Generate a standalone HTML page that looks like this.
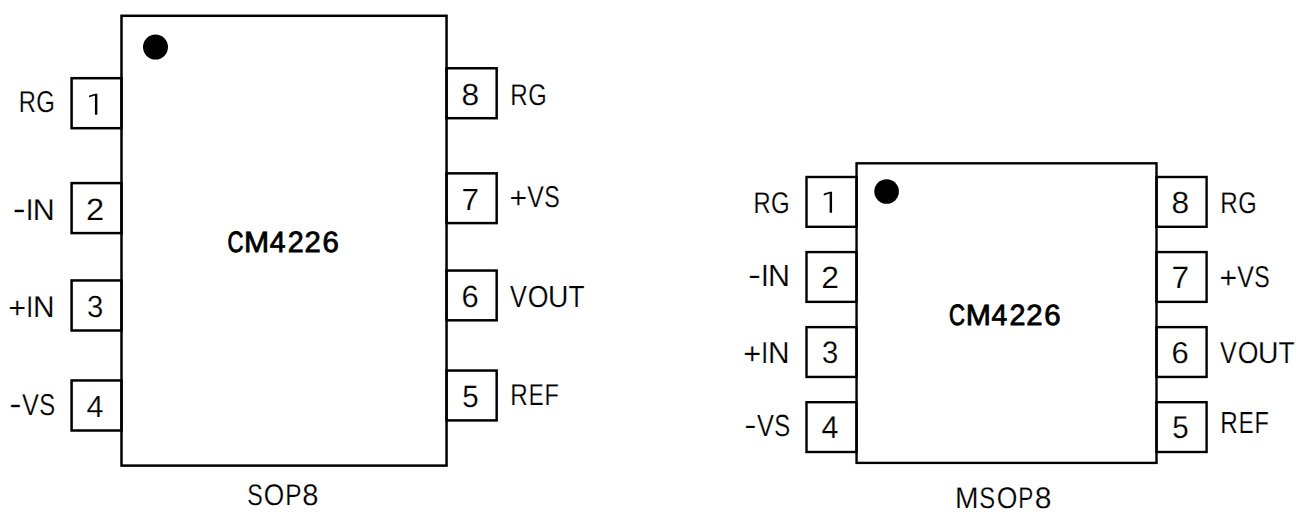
<!DOCTYPE html>
<html><head><meta charset="utf-8"><title>CM4226 pinout</title><style>
html,body{margin:0;padding:0;background:#fff;width:1307px;height:527px;overflow:hidden}
svg{display:block}
rect{fill:none;stroke:#000}
.dot{fill:#000}
.one{fill:#000;stroke:none}
text{font-family:"Liberation Sans",sans-serif;font-size:100px;fill:#000;font-kerning:none;text-rendering:geometricPrecision}
</style></head><body>
<svg width="1307" height="527" viewBox="0 0 1307 527">
<defs></defs>
<rect x="71.60" y="78.20" width="49.90" height="50.00" stroke-width="2.50"/>
<rect x="71.60" y="183.10" width="49.90" height="50.00" stroke-width="2.50"/>
<rect x="71.60" y="280.45" width="49.90" height="50.05" stroke-width="2.50"/>
<rect x="71.60" y="380.45" width="49.90" height="50.05" stroke-width="2.50"/>
<rect x="446.55" y="68.27" width="50.12" height="49.93" stroke-width="2.50"/>
<rect x="446.55" y="173.35" width="50.12" height="49.75" stroke-width="2.50"/>
<rect x="446.55" y="270.55" width="50.12" height="49.75" stroke-width="2.50"/>
<rect x="446.55" y="370.55" width="50.12" height="49.85" stroke-width="2.50"/>
<rect x="121.50" y="15.80" width="325.05" height="449.80" stroke-width="2.50"/>
<circle cx="155.5" cy="47.1" r="12.5" class="dot"/>
<rect x="806.50" y="177.00" width="50.05" height="49.80" stroke-width="2.40"/>
<rect x="1156.50" y="177.00" width="50.10" height="49.80" stroke-width="2.40"/>
<rect x="806.50" y="252.07" width="50.05" height="49.80" stroke-width="2.40"/>
<rect x="1156.50" y="252.07" width="50.10" height="49.80" stroke-width="2.40"/>
<rect x="806.50" y="327.13" width="50.05" height="49.80" stroke-width="2.40"/>
<rect x="1156.50" y="327.13" width="50.10" height="49.80" stroke-width="2.40"/>
<rect x="806.50" y="402.20" width="50.05" height="49.80" stroke-width="2.40"/>
<rect x="1156.50" y="402.20" width="50.10" height="49.80" stroke-width="2.40"/>
<rect x="856.55" y="163.30" width="299.95" height="299.60" stroke-width="2.40"/>
<circle cx="886.6" cy="191.5" r="12.3" class="dot"/>
<text transform="matrix(0.23747 0 0 0.30088 18.652 111.850)" stroke="#fff" stroke-width="0.743">R</text>
<text transform="matrix(0.23896 0 0 0.30088 36.198 111.850)" stroke="#fff" stroke-width="0.741">G</text>
<text transform="matrix(0.38912 0 0 0.30233 12.771 218.950)" stroke="#fff" stroke-width="0.578">-</text>
<text transform="matrix(0.27879 0 0 0.30233 25.727 219.850)" stroke="#fff" stroke-width="0.688">I</text>
<text transform="matrix(0.30434 0 0 0.30233 32.703 219.850)" stroke="#fff" stroke-width="0.659">N</text>
<text transform="matrix(0.30669 0 0 0.30088 8.303 317.750)" stroke="#fff" stroke-width="0.658">+</text>
<text transform="matrix(0.24662 0 0 0.30088 26.224 316.850)" stroke="#fff" stroke-width="0.731">I</text>
<text transform="matrix(0.29897 0 0 0.30088 32.948 316.850)" stroke="#fff" stroke-width="0.667">N</text>
<text transform="matrix(0.36864 0 0 0.30088 9.162 413.850)" stroke="#fff" stroke-width="0.597">-</text>
<text transform="matrix(0.25372 0 0 0.30088 21.989 414.750)" stroke="#fff" stroke-width="0.721">V</text>
<text transform="matrix(0.23972 0 0 0.30088 39.311 414.750)" stroke="#fff" stroke-width="0.740">S</text>
<text transform="matrix(0.24253 0 0 0.29942 510.311 104.750)" stroke="#fff" stroke-width="0.738">R</text>
<text transform="matrix(0.23743 0 0 0.29942 528.206 104.750)" stroke="#fff" stroke-width="0.745">G</text>
<text transform="matrix(0.30257 0 0 0.30088 509.423 207.650)" stroke="#fff" stroke-width="0.663">+</text>
<text transform="matrix(0.24916 0 0 0.30088 527.291 206.750)" stroke="#fff" stroke-width="0.727">V</text>
<text transform="matrix(0.23103 0 0 0.30088 544.251 206.750)" stroke="#fff" stroke-width="0.752">S</text>
<text transform="matrix(0.25068 0 0 0.30524 509.990 306.950)" stroke="#fff" stroke-width="0.720">V</text>
<text transform="matrix(0.26662 0 0 0.30524 527.637 306.950)" stroke="#fff" stroke-width="0.699">O</text>
<text transform="matrix(0.28352 0 0 0.30524 547.913 306.950)" stroke="#fff" stroke-width="0.679">U</text>
<text transform="matrix(0.26352 0 0 0.30524 568.608 306.950)" stroke="#fff" stroke-width="0.703">T</text>
<text transform="matrix(0.24253 0 0 0.30233 510.311 404.850)" stroke="#fff" stroke-width="0.734">R</text>
<text transform="matrix(0.22325 0 0 0.30233 528.669 404.850)" stroke="#fff" stroke-width="0.761">E</text>
<text transform="matrix(0.23528 0 0 0.30233 544.570 404.850)" stroke="#fff" stroke-width="0.744">F</text>
<text transform="matrix(0.23277 0 0 0.29652 247.343 504.750)" stroke="#fff" stroke-width="0.756">S</text>
<text transform="matrix(0.26369 0 0 0.29652 263.651 504.750)" stroke="#fff" stroke-width="0.714">O</text>
<text transform="matrix(0.24426 0 0 0.29652 285.296 504.750)" stroke="#fff" stroke-width="0.740">P</text>
<text transform="matrix(0.29196 0 0 0.29652 302.231 504.750)" stroke="#fff" stroke-width="0.680">8</text>
<text transform="matrix(0.22043 0 0 0.29303 227.401 251.530)" stroke="#000" stroke-width="3.272">C</text>
<text transform="matrix(0.30137 0 0 0.29303 244.048 251.530)" stroke="#000" stroke-width="2.826">M</text>
<text transform="matrix(0.28299 0 0 0.29303 269.771 251.530)" stroke="#000" stroke-width="2.917">4</text>
<text transform="matrix(0.28668 0 0 0.29303 287.778 251.530)" stroke="#000" stroke-width="2.898">2</text>
<text transform="matrix(0.29326 0 0 0.29303 304.545 251.530)" stroke="#000" stroke-width="2.865">2</text>
<text transform="matrix(0.29387 0 0 0.29303 322.528 251.530)" stroke="#000" stroke-width="2.862">6</text>
<text transform="matrix(0.28253 0 0 0.29652 955.082 507.650)" stroke="#fff" stroke-width="0.691">M</text>
<text transform="matrix(0.23798 0 0 0.29652 979.219 507.650)" stroke="#fff" stroke-width="0.748">S</text>
<text transform="matrix(0.26516 0 0 0.29652 996.744 507.650)" stroke="#fff" stroke-width="0.712">O</text>
<text transform="matrix(0.22547 0 0 0.29652 1018.250 507.650)" stroke="#fff" stroke-width="0.766">P</text>
<text transform="matrix(0.30049 0 0 0.29652 1034.794 507.650)" stroke="#fff" stroke-width="0.670">8</text>
<text transform="matrix(0.23747 0 0 0.29942 753.392 212.750)" stroke="#fff" stroke-width="0.745">R</text>
<text transform="matrix(0.23896 0 0 0.29942 770.938 212.750)" stroke="#fff" stroke-width="0.743">G</text>
<text transform="matrix(0.38912 0 0 0.30669 748.071 285.050)" stroke="#fff" stroke-width="0.575">-</text>
<text transform="matrix(0.27879 0 0 0.30669 761.027 285.950)" stroke="#fff" stroke-width="0.683">I</text>
<text transform="matrix(0.30434 0 0 0.30669 768.003 285.950)" stroke="#fff" stroke-width="0.655">N</text>
<text transform="matrix(0.30669 0 0 0.30378 743.303 363.850)" stroke="#fff" stroke-width="0.655">+</text>
<text transform="matrix(0.24662 0 0 0.30378 761.224 362.950)" stroke="#fff" stroke-width="0.727">I</text>
<text transform="matrix(0.29897 0 0 0.30378 767.948 362.950)" stroke="#fff" stroke-width="0.664">N</text>
<text transform="matrix(0.36864 0 0 0.30669 744.162 435.050)" stroke="#fff" stroke-width="0.592">-</text>
<text transform="matrix(0.25372 0 0 0.30669 756.989 435.950)" stroke="#fff" stroke-width="0.714">V</text>
<text transform="matrix(0.23972 0 0 0.30669 774.311 435.950)" stroke="#fff" stroke-width="0.732">S</text>
<text transform="matrix(0.24253 0 0 0.29942 1220.311 212.750)" stroke="#fff" stroke-width="0.738">R</text>
<text transform="matrix(0.23743 0 0 0.29942 1238.206 212.750)" stroke="#fff" stroke-width="0.745">G</text>
<text transform="matrix(0.30257 0 0 0.30233 1219.423 287.750)" stroke="#fff" stroke-width="0.661">+</text>
<text transform="matrix(0.24916 0 0 0.30233 1237.291 286.850)" stroke="#fff" stroke-width="0.725">V</text>
<text transform="matrix(0.23103 0 0 0.30233 1254.251 286.850)" stroke="#fff" stroke-width="0.750">S</text>
<text transform="matrix(0.25068 0 0 0.30378 1219.990 362.950)" stroke="#fff" stroke-width="0.721">V</text>
<text transform="matrix(0.26662 0 0 0.30378 1237.637 362.950)" stroke="#fff" stroke-width="0.701">O</text>
<text transform="matrix(0.28352 0 0 0.30378 1257.913 362.950)" stroke="#fff" stroke-width="0.681">U</text>
<text transform="matrix(0.26352 0 0 0.30378 1278.608 362.950)" stroke="#fff" stroke-width="0.705">T</text>
<text transform="matrix(0.24253 0 0 0.30669 1220.311 433.150)" stroke="#fff" stroke-width="0.728">R</text>
<text transform="matrix(0.22325 0 0 0.30669 1238.669 433.150)" stroke="#fff" stroke-width="0.755">E</text>
<text transform="matrix(0.23528 0 0 0.30669 1254.570 433.150)" stroke="#fff" stroke-width="0.738">F</text>
<text transform="matrix(0.22043 0 0 0.29303 949.051 324.530)" stroke="#000" stroke-width="3.272">C</text>
<text transform="matrix(0.30137 0 0 0.29303 965.698 324.530)" stroke="#000" stroke-width="2.826">M</text>
<text transform="matrix(0.28299 0 0 0.29303 991.421 324.530)" stroke="#000" stroke-width="2.917">4</text>
<text transform="matrix(0.28668 0 0 0.29303 1009.428 324.530)" stroke="#000" stroke-width="2.898">2</text>
<text transform="matrix(0.29326 0 0 0.29303 1026.195 324.530)" stroke="#000" stroke-width="2.865">2</text>
<text transform="matrix(0.29387 0 0 0.29303 1044.178 324.530)" stroke="#000" stroke-width="2.862">6</text>
<text transform="matrix(0.32707 0 0 0.30648 86.055 220.300)" stroke="#fff" stroke-width="0.631">2</text>
<text transform="matrix(0.29317 0 0 0.30508 87.083 317.102)" stroke="#fff" stroke-width="0.669">3</text>
<text transform="matrix(0.30561 0 0 0.30669 86.499 416.900)" stroke="#fff" stroke-width="0.653">4</text>
<text transform="matrix(0.31754 0 0 0.30367 461.620 104.903)" stroke="#fff" stroke-width="0.644">8</text>
<text transform="matrix(0.31677 0 0 0.30669 461.376 210.100)" stroke="#fff" stroke-width="0.642">7</text>
<text transform="matrix(0.30991 0 0 0.30649 461.426 307.001)" stroke="#fff" stroke-width="0.649">6</text>
<text transform="matrix(0.29528 0 0 0.30813 462.218 406.799)" stroke="#fff" stroke-width="0.663">5</text>
<text transform="matrix(0.31829 0 0 0.30792 821.299 288.100)" stroke="#fff" stroke-width="0.639">2</text>
<text transform="matrix(0.29317 0 0 0.31073 822.083 363.297)" stroke="#fff" stroke-width="0.662">3</text>
<text transform="matrix(0.30561 0 0 0.31251 821.499 438.100)" stroke="#fff" stroke-width="0.647">4</text>
<text transform="matrix(0.31754 0 0 0.30367 1171.620 213.003)" stroke="#fff" stroke-width="0.644">8</text>
<text transform="matrix(0.31677 0 0 0.30814 1171.376 288.100)" stroke="#fff" stroke-width="0.640">7</text>
<text transform="matrix(0.30991 0 0 0.30226 1171.426 363.005)" stroke="#fff" stroke-width="0.653">6</text>
<text transform="matrix(0.29528 0 0 0.31530 1172.218 438.292)" stroke="#fff" stroke-width="0.655">5</text>
<path class="one" d="M97.35 93.70 L97.35 114.75 L94.95 114.75 L94.95 95.40 L89.25 97.30 L88.95 96.30 L89.35 95.40 L95.15 93.70 Z"/>
<text x="88.95" y="114.75" style="font-size:30px;fill:none;stroke:none">1</text>
<path class="one" d="M832.05 191.80 L832.05 212.85 L829.65 212.85 L829.65 193.50 L823.95 195.40 L823.65 194.40 L824.05 193.50 L829.85 191.80 Z"/>
<text x="823.65" y="212.85" style="font-size:30px;fill:none;stroke:none">1</text>
</svg>
</body></html>
